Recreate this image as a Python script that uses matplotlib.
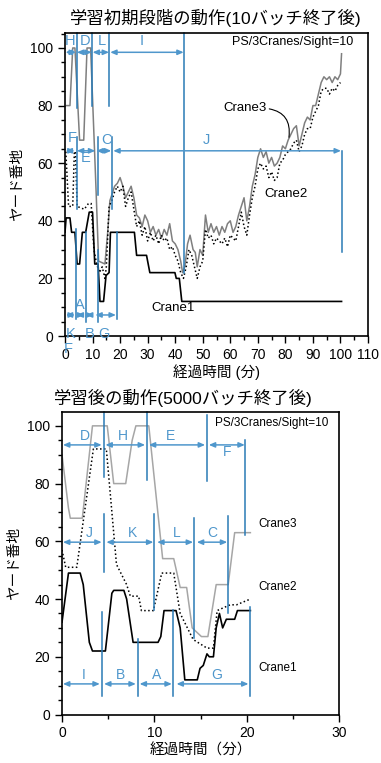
import matplotlib
matplotlib.use('Agg')
import matplotlib.pyplot as plt
from matplotlib.ticker import MultipleLocator

plt.rcParams['font.family'] = ['Liberation Sans', 'Noto Sans CJK JP', 'DejaVu Sans']

# ---- early stage (10 batches) ----
early_t1 = [0, 0.4, 1.8, 2.4, 3.6, 4.4, 5.3, 6.3, 7.5, 8.8, 10.0, 10.8, 12.0, 12.7, 14.0,
            14.9, 16.0, 16.5, 25.2, 26.0, 29.6, 30.8, 39.9, 40.4, 41.5, 42.4, 100.4]
early_c1 = [36, 41, 41, 36, 36, 25, 25, 36, 36, 43, 43, 25, 25, 12, 12,
            21, 22, 36, 36, 28, 28, 22, 22, 20, 20, 12, 12]

early_t2 = [0.3, 1.3, 2.8, 3.4, 3.8, 4.4, 7.0, 8.5, 9.5, 10.5, 11.5, 12.5, 13.5, 14.5, 15.0,
            16.0, 17, 18, 19, 20, 21, 22, 23, 24, 25, 26, 27, 28, 29, 30, 31, 32, 33, 34,
            35, 36, 37, 38, 39, 40, 41, 42, 43, 44, 45, 46, 47, 48, 49, 50, 51, 52, 53, 54,
            55, 56, 57, 58, 59, 60, 61, 62, 63, 64, 65, 66, 67, 68, 69, 70, 71, 72, 73, 74,
            75, 76, 77, 78, 79, 80, 81, 82, 83, 84, 85, 86, 87, 88, 89, 90, 91, 92, 93, 94,
            95, 96, 97, 98, 99, 100]
early_c2 = [64, 45, 45, 64, 64, 45, 44, 46, 46, 30, 25, 22, 24, 20, 24,
            45, 47, 50, 52, 50, 52, 45, 48, 50, 44, 38, 40, 35, 38, 33, 36, 33, 35, 32,
            35, 33, 34, 30, 31, 28, 26, 22, 20, 24, 30, 28, 24, 20, 24, 26, 37, 34, 35, 32,
            34, 33, 32, 34, 31, 35, 34, 33, 38, 43, 38, 35, 42, 48, 52, 58, 60, 58, 59, 55,
            57, 54, 55, 60, 61, 63, 64, 65, 67, 68, 64, 66, 70, 72, 72, 76, 78, 80, 85, 86,
            86, 84, 86, 85, 87, 88]

early_t3 = [0.5, 1.8, 2.8, 3.6, 5.3, 6.8, 8.0, 9.3, 11.3, 12.2, 14.5, 15.5, 16.3, 17, 18, 19,
            20, 21, 22, 23, 24, 25, 26, 27, 28, 29, 30, 31, 32, 33, 34, 35, 36, 37, 38, 39,
            40, 41, 42, 42.7, 43.5, 44.5, 45.4, 46.5, 47.3, 48, 49, 50, 51, 52, 53, 54, 55,
            56, 57, 58, 59, 60, 61, 62, 63, 64, 65, 66, 67, 68, 69, 70, 71, 72, 73, 74, 75,
            76, 77, 78, 79, 80, 81, 82, 83, 84, 85, 86, 87, 88, 89, 90, 91, 92, 93, 94, 95,
            96, 97, 98, 99, 100, 100.4]
early_c3 = [80, 80, 100, 100, 68, 68, 100, 100, 50, 26, 25, 36, 47, 49, 52, 53,
            55, 52, 48, 50, 52, 48, 42, 41, 38, 42, 40, 36, 38, 35, 37, 34, 37, 35, 39, 33,
            32, 30, 26, 22, 24, 32, 35, 30, 29, 24, 30, 28, 42, 36, 39, 36, 38,
            35, 38, 36, 39, 40, 36, 38, 42, 45, 48, 40, 45, 52, 56, 62, 65, 62, 64, 60, 62,
            59, 60, 62, 66, 65, 68, 70, 72, 73, 66, 70, 74, 76, 75, 80, 80, 84, 88, 90, 89,
            90, 88, 90, 89, 91, 98]

# interval annotations: label, start, end, label x, row level
early_rows = [
    (['H', 'D', 'L', 'I'], [0.2, 4.3, 10.0, 16.4], [4.0, 9.7, 16.0, 43.1], [2.0, 7.3, 13.3, 27.8], 98.5),
    (['F', 'E', 'C', 'J'], [0.2, 4.3, 11.4, 17.5], [3.5, 11.0, 16.8, 100.2], [2.5, 7.6, 14.9, 51.4], 64.3),
    (['K', 'A', 'B', 'G'], [0.3, 4.2, 7.6, 11.0], [3.6, 7.0, 10.3, 18.5], [2.2, 5.4, 8.9, 14.1], 7.3),
]
early_label_dy = [[3.8, 3.8, 3.8, 3.8], [4.5, -2.5, 3.8, 3.8], [-6.5, 3.5, -6.5, -6.5]]
early_bounds = [4.2, 9.9, 16.1, 43.2, 4.2, 11.8, 17.1, 100.4, 3.9, 7.5, 11.8, 19.0]
early_bound_top = [105.2, 105.2, 105.2, 105.2, 69, 69, 69, 64.3, 37, 36, 30, 36]
early_bound_bot = [79, 80, 80, 22, 44, 49, 44, 29, 6, 5, 5, 6]

# ---- after learning (5000 batches) ----
late_t1 = [0, 0.7, 1.97, 2.3, 2.96, 3.3, 4.7, 5.4, 5.6, 6.7, 7.0, 7.7, 10.4, 10.7, 11.05,
           12.35, 12.8, 13.3, 14.65, 14.95, 15.3, 15.7, 15.95, 16.4, 16.7, 17.05, 17.4,
           17.8, 18.7, 19.0, 20.4]
late_c1 = [32, 49, 49, 45, 25, 22, 22, 42, 43, 43, 40, 25, 25, 27, 36,
           36, 30, 12, 12, 16, 17, 21, 20, 20, 30, 35, 30,
           33, 33, 36, 36]

late_t2 = [0, 0.4, 1.6, 3.4, 4.8, 5.9, 7.0, 7.4, 8.3, 8.6, 9.9, 10.8, 12.1, 12.8, 14.2,
           15.7, 16.4, 16.8, 18.2, 18.9, 20.4]
late_c2 = [57, 51, 51, 92, 92, 52, 45, 41, 41, 36, 36, 49, 49, 35, 26,
           23, 23, 36, 38, 38, 40]

late_t3 = [0, 0.7, 0.9, 2.2, 3.3, 4.9, 5.6, 6.9, 7.6, 8.0, 9.4, 10.9, 12.1, 12.8, 13.5,
           14.1, 15.1, 15.8, 16.7, 18.0, 18.7, 20.4]
late_c3 = [90, 71.5, 68, 68, 100, 100, 80, 80, 95, 100, 100, 54, 54, 44, 44,
           30, 27, 27, 45, 45, 63, 63]

late_rows = [
    (['D', 'H', 'E', 'F'], [0.1, 4.7, 9.4, 15.9], [4.3, 9.0, 15.5, 19.8], [2.5, 6.6, 11.7, 17.9], 93.4),
    (['J', 'K', 'L', 'C'], [0.1, 4.8, 10.3, 14.6], [4.3, 9.9, 14.2, 17.9], [3.0, 7.6, 12.4, 16.3], 59.7),
    (['I', 'B', 'A', 'G'], [0.1, 4.55, 8.4, 12.4], [4.1, 8.0, 11.9, 20.2], [2.3, 6.3, 10.2, 16.8], 10.6),
]
late_label_dy = [[3.2, 3.2, 3.2, -2.5], [3.2, 3.2, 3.2, 3.2], [3.2, 3.2, 3.2, 3.2]]
late_bounds = [4.6, 9.2, 15.7, 19.8, 4.55, 9.97, 14.3, 18.0, 4.37, 8.26, 12.05, 20.4]
late_bound_top = [104.8, 104.8, 103.8, 95, 69.5, 69.5, 68, 68.6, 35.6, 26.2, 36.2, 37.4]
late_bound_bot = [82.4, 81.3, 81, 62.2, 49.5, 36.2, 26.4, 35, 6.4, 6.4, 6.4, 6.4]

BLUE = '#2a7ab5'
BLUE_L = '#4f97cc'


def draw_panel(ax, c1, c2, c3, rows, label_dy, bounds, btop, bbot, gray, lfs):
    ax.plot(c3[0], c3[1], color=gray, lw=1.1)
    ax.plot(c2[0], c2[1], color='black', lw=1.1, ls=(0, (1, 1.6)))
    ax.plot(c1[0], c1[1], color='black', lw=1.2)
    for x, y0, y1 in zip(bounds, btop, bbot):
        ax.plot([x, x], [y1, y0], color=BLUE, lw=1.1, clip_on=False)
    for (labels, starts, ends, lx, level), dys in zip(rows, label_dy):
        for lab, s, e, x, dy in zip(labels, starts, ends, lx, dys):
            ax.annotate('', xy=(e, level), xytext=(s, level),
                        arrowprops=dict(arrowstyle='<|-|>,head_length=0.35,head_width=0.15',
                                        color=BLUE_L, lw=1.1, shrinkA=0, shrinkB=0))
            ax.text(x, level + dy, lab, color=BLUE_L, fontsize=lfs,
                    ha='center', va='center')


fig = plt.figure(figsize=(3.81, 7.63), dpi=100)

# top panel
ax1 = fig.add_axes([65 / 381, 1 - 336 / 763, 303 / 381, 303 / 763])
draw_panel(ax1, (early_t1, early_c1), (early_t2, early_c2), (early_t3, early_c3),
           early_rows, early_label_dy, early_bounds, early_bound_top, early_bound_bot,
           '#7f7f7f', 10.5)
ax1.set_xlim(0, 110)
ax1.set_ylim(0, 105.2)
ax1.xaxis.set_major_locator(MultipleLocator(10))
ax1.xaxis.set_minor_locator(MultipleLocator(5))
ax1.set_xlabel('経過時間 (分)', fontsize=10.5, labelpad=2)
ax1.text(1.0, -4.5, 'F', color=BLUE_L, fontsize=10.5, ha='center', va='center', clip_on=False)
ax1.text(82.8, 102, 'PS/3Cranes/Sight=10', fontsize=9, ha='center', va='center')
ax1.annotate('Crane3', xy=(81.3, 69), xytext=(65.3, 79), fontsize=9.5, ha='center', va='center',
             arrowprops=dict(arrowstyle='-', connectionstyle='arc3,rad=-0.5', color='black',
                             lw=0.8, shrinkA=0, shrinkB=0, relpos=(1, 0.5)))
ax1.text(80.4, 49.3, 'Crane2', fontsize=9.5, ha='center', va='center')
ax1.text(39.3, 9.6, 'Crane1', fontsize=9.5, ha='center', va='center')
fig.text(216 / 381, 1 - 18 / 763, '学習初期段階の動作(10バッチ終了後)', fontsize=12.5,
         ha='center', va='center')

# bottom panel
ax2 = fig.add_axes([62 / 381, 1 - 714.5 / 763, 277 / 381, 302.5 / 763])
draw_panel(ax2, (late_t1, late_c1), (late_t2, late_c2), (late_t3, late_c3),
           late_rows, late_label_dy, late_bounds, late_bound_top, late_bound_bot,
           '#a6a6a6', 10)
ax2.set_xlim(0, 30)
ax2.set_ylim(0, 104.8)
ax2.xaxis.set_major_locator(MultipleLocator(10))
ax2.xaxis.set_minor_locator(MultipleLocator(5))
ax2.set_xlabel('経過時間（分）', fontsize=10.5, labelpad=2)
ax2.text(22.7, 101, 'PS/3Cranes/Sight=10', fontsize=8.5, ha='center', va='center')
ax2.text(23.3, 66, 'Crane3', fontsize=8.5, ha='center', va='center')
ax2.text(23.3, 44, 'Crane2', fontsize=8.5, ha='center', va='center')
ax2.text(23.4, 16, 'Crane1', fontsize=8.5, ha='center', va='center')
fig.text(183 / 381, 1 - 398 / 763, '学習後の動作(5000バッチ終了後)', fontsize=12.5,
         ha='center', va='center')

for ax in (ax1, ax2):
    ax.yaxis.set_major_locator(MultipleLocator(20))
    ax.yaxis.set_minor_locator(MultipleLocator(5))
    ax.set_ylabel('ヤード番地', fontsize=10.5, labelpad=4)
    ax.tick_params(which='both', direction='out', top=False, right=False, labelsize=10)
    ax.tick_params(which='major', length=5, width=1)
    ax.tick_params(which='minor', length=3, width=1)
    for sp in ax.spines.values():
        sp.set_linewidth(1.2)

fig.savefig('out.png', dpi=100)
